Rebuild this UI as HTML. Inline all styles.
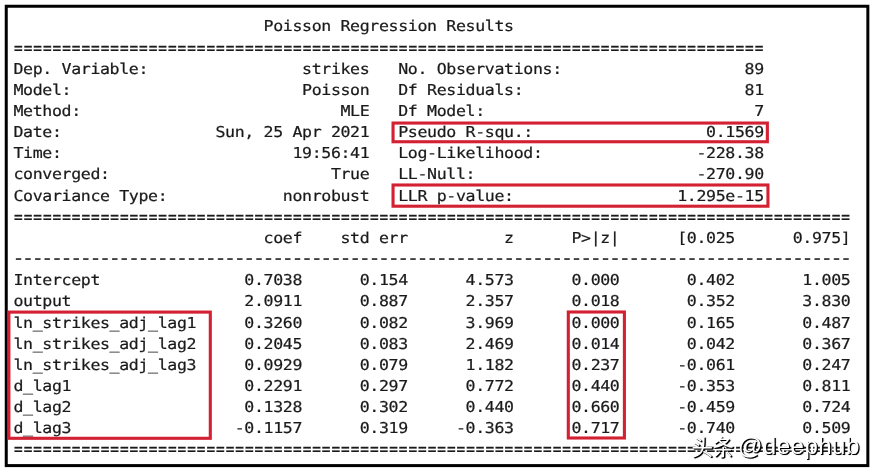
<!DOCTYPE html>
<html lang="en">
<head>
<meta charset="utf-8">
<title>Poisson Regression Results</title>
<style>
html,body{margin:0;padding:0;background:#fff;}
body{width:875px;height:473px;position:relative;overflow:hidden;}
svg.ov{position:absolute;left:0;top:0;will-change:transform;}
svg.ov text{font-family:"DejaVu Sans Mono","Liberation Mono",monospace;fill:#1a1a1a;stroke:#1a1a1a;stroke-width:0.24px;white-space:pre;text-rendering:geometricPrecision;}
.txt{font-size:16.6px;letter-spacing:-0.3700px;}
.eq{font-size:14.4px;letter-spacing:0.9545px;}
.da{font-size:20.0px;letter-spacing:-2.4170px;}
.wm{position:absolute;top:431px;height:30px;white-space:nowrap;font-family:"Liberation Sans","Noto Sans CJK SC",sans-serif;
 line-height:30px;color:#fff;text-shadow:1px 1px 0 #000,1.4px 1.4px 0.8px rgba(0,0,0,0.85);}
.wm.cj{left:691.6px;font-size:21.5px;letter-spacing:-0.6px;top:433px;}
.wm.la{left:738.0px;font-size:24px;letter-spacing:0.5px;}
</style>
</head>
<body>
<svg class="ov" width="875" height="473" viewBox="0 0 875 473">
<g>
<text class="txt" xml:space="preserve" transform="translate(13.415 31.350) scale(1 0.9)">                          Poisson Regression Results</text>
<text class="eq" xml:space="preserve" transform="translate(14.077 53.600) scale(1 1.23)">==============================================================================</text>
<text class="txt" xml:space="preserve" transform="translate(13.415 73.666) scale(1 0.9)">Dep. Variable:                strikes   No. Observations:                   89</text>
<text class="txt" xml:space="preserve" transform="translate(13.415 94.824) scale(1 0.9)">Model:                        Poisson   Df Residuals:                       81</text>
<text class="txt" xml:space="preserve" transform="translate(13.415 115.982) scale(1 0.9)">Method:                           MLE   Df Model:                            7</text>
<text class="txt" xml:space="preserve" transform="translate(13.415 137.140) scale(1 0.9)">Date:                Sun, 25 Apr 2021   Pseudo R-squ.:                  0.1569</text>
<text class="txt" xml:space="preserve" transform="translate(13.415 158.298) scale(1 0.9)">Time:                        19:56:41   Log-Likelihood:                -228.38</text>
<text class="txt" xml:space="preserve" transform="translate(13.415 179.456) scale(1 0.9)">converged:                       True   LL-Null:                       -270.90</text>
<text class="txt" xml:space="preserve" transform="translate(13.415 200.614) scale(1 0.9)">Covariance Type:            nonrobust   LLR p-value:                 1.295e-15</text>
<text class="eq" xml:space="preserve" transform="translate(14.077 222.600) scale(1 1.23)">=======================================================================================</text>
<text class="txt" xml:space="preserve" transform="translate(13.415 242.930) scale(1 0.9)">                          coef    std err          z      P&gt;|z|      [0.025      0.975]</text>
<text class="da" xml:space="preserve" transform="translate(12.392 264.300) scale(1 0.9)">---------------------------------------------------------------------------------------</text>
<text class="txt" xml:space="preserve" transform="translate(13.415 285.246) scale(1 0.9)">Intercept               0.7038      0.154      4.573      0.000       0.402       1.005</text>
<text class="txt" xml:space="preserve" transform="translate(13.415 306.404) scale(1 0.9)">output                  2.0911      0.887      2.357      0.018       0.352       3.830</text>
<text class="txt" xml:space="preserve" transform="translate(13.415 327.562) scale(1 0.9)">ln_strikes_adj_lag1     0.3260      0.082      3.969      0.000       0.165       0.487</text>
<text class="txt" xml:space="preserve" transform="translate(13.415 348.720) scale(1 0.9)">ln_strikes_adj_lag2     0.2045      0.083      2.469      0.014       0.042       0.367</text>
<text class="txt" xml:space="preserve" transform="translate(13.415 369.878) scale(1 0.9)">ln_strikes_adj_lag3     0.0929      0.079      1.182      0.237      -0.061       0.247</text>
<text class="txt" xml:space="preserve" transform="translate(13.415 391.036) scale(1 0.9)">d_lag1                  0.2291      0.297      0.772      0.440      -0.353       0.811</text>
<text class="txt" xml:space="preserve" transform="translate(13.415 412.194) scale(1 0.9)">d_lag2                  0.1328      0.302      0.440      0.660      -0.459       0.724</text>
<text class="txt" xml:space="preserve" transform="translate(13.415 433.352) scale(1 0.9)">d_lag3                 -0.1157      0.319     -0.363      0.717      -0.740       0.509</text>
<text class="eq" xml:space="preserve" transform="translate(14.077 455.350) scale(1 1.23)">=======================================================================================</text>
</g>
<g fill="none" stroke="#000" stroke-width="3">
<rect x="6.25" y="6.25" width="861.6" height="459.35"/>
</g>
<g fill="none" stroke="#d32032" stroke-width="3.1">
<rect x="393.05" y="123.05" width="374.3" height="18.7"/>
<rect x="393.05" y="185.0" width="374.9" height="21.2"/>
<rect x="8.9" y="312.1" width="201.4" height="126.2"/>
<rect x="568.3" y="312.0" width="56.1" height="126.0"/>
</g>
</svg>
<div class="wm cj">头条</div><div class="wm la">@deephub</div>
</body>
</html>
